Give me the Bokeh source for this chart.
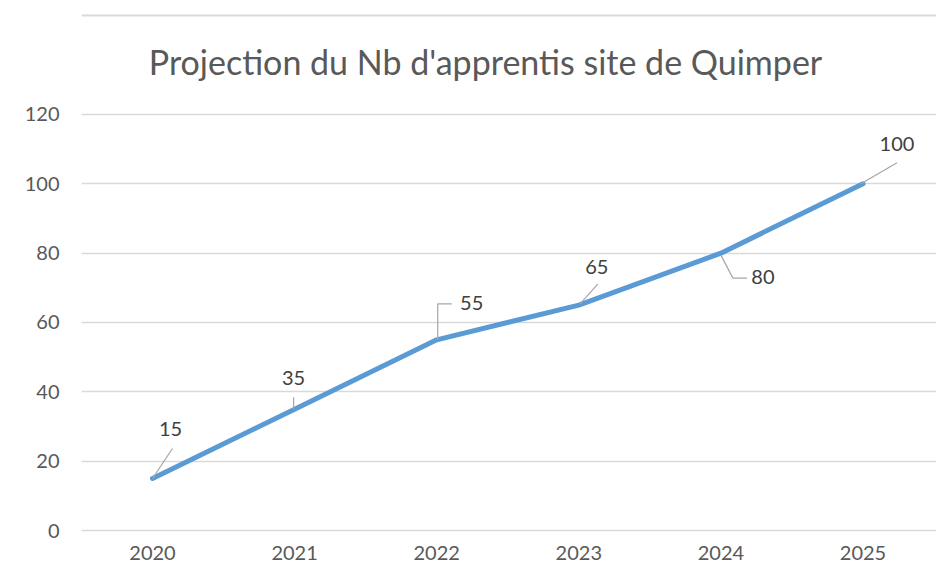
from bokeh.plotting import figure
from bokeh.models import ColumnDataSource, Range1d, FixedTicker, Label, Span
from bokeh.core.properties import value
from bokeh.embed import file_html
from bokeh.resources import INLINE

# ---- data ----
years = [2020, 2021, 2022, 2023, 2024, 2025]
apprentis = [15, 35, 55, 65, 80, 100]
y_ticks = [0, 20, 40, 60, 80, 100, 120]
title_text = "Projection du Nb d'apprentis site de Quimper"

# ---- style / layout constants ----
FONT = "Lato"
W, H = 936, 586
ML, MR, MT, MB = 81, 0, 0, 52
PX_X = 142.1           # pixels per year
PX_Y = 3.467           # pixels per unit
X_START = 2020 - 71 / PX_X
X_END = X_START + (W - ML - MR) / PX_X
Y_START = -4 / PX_Y
Y_END = Y_START + (H - MT - MB) / PX_Y

p = figure(width=W, height=H, output_backend="svg", toolbar_location=None,
           x_range=Range1d(X_START, X_END), y_range=Range1d(Y_START, Y_END),
           min_border_left=ML, min_border_right=MR, min_border_top=MT,
           min_border_bottom=MB)
p.outline_line_color = None
p.background_fill_color = "white"
p.border_fill_color = "white"

# axes
for ax in (p.xaxis[0], p.yaxis[0]):
    ax.axis_line_color = None
    ax.major_tick_line_color = None
    ax.minor_tick_line_color = None
    ax.major_tick_out = 0
    ax.major_tick_in = 0
    ax.major_label_text_font = FONT
    ax.major_label_text_font_size = "20px"
    ax.major_label_text_color = "#595959"
p.xaxis.ticker = FixedTicker(ticks=years)
p.xaxis.major_label_overrides = {y: str(y) for y in years}
p.xaxis.major_label_standoff = 11
p.yaxis.ticker = FixedTicker(ticks=y_ticks)
p.yaxis.major_label_standoff = 22

p.xgrid.grid_line_color = None
p.ygrid.grid_line_color = "#d9d9d9"
p.ygrid.grid_line_width = 1.5

# line
src = ColumnDataSource(dict(x=years, y=apprentis))
p.line("x", "y", source=src, line_color="#5b9bd5", line_width=5,
       line_join="round", line_cap="round")

# data labels with leader lines (offsets in screen pixels)
label_dx = [18, -1, 35, 18, 42, 34]
label_dy = [-49, -31, -37, -38, 24, -40]
leaders_px = [
    [(0, 0), (20, -30)],
    [(-1, 0), (-1, -12)],
    [(1, 0), (1, -36), (15, -36)],
    [(1, -1), (19, -21)],
    [(0, 2), (12, 25), (26, 25)],
    [(-2, 0), (34, -21)],
]
lx, ly = [], []
for xv, yv, pts in zip(years, apprentis, leaders_px):
    lx.append([xv + dx / PX_X for dx, dy in pts])
    ly.append([yv - dy / PX_Y for dx, dy in pts])
p.multi_line(lx, ly, line_color="#a6a6a6", line_width=1.2)

lsrc = ColumnDataSource(dict(x=years, y=apprentis, t=[str(v) for v in apprentis],
                             dx=label_dx, dy=label_dy))
p.text("x", "y", text="t", source=lsrc, x_offset="dx", y_offset="dy",
       text_align="center", text_baseline="middle", text_font=value(FONT),
       text_font_size="20px", text_color="#404040")

# title (inside the extended frame, above the grid)
frame_bottom = H - MB
title_cx = 2020 + (485 - 152) / PX_X
title_cy = Y_START + (frame_bottom - 61) / PX_Y
p.add_layout(Label(x=title_cx, y=title_cy, text=title_text, text_align="center",
                   text_baseline="middle", text_font=FONT, text_font_size="34px",
                   text_color="#595959"))

# top border line of the chart area
p.add_layout(Span(location=Y_START + (frame_bottom - 15) / PX_Y, dimension="width",
                  line_color="#d9d9d9", line_width=2))

open("out.html", "w").write(file_html(p, INLINE))
